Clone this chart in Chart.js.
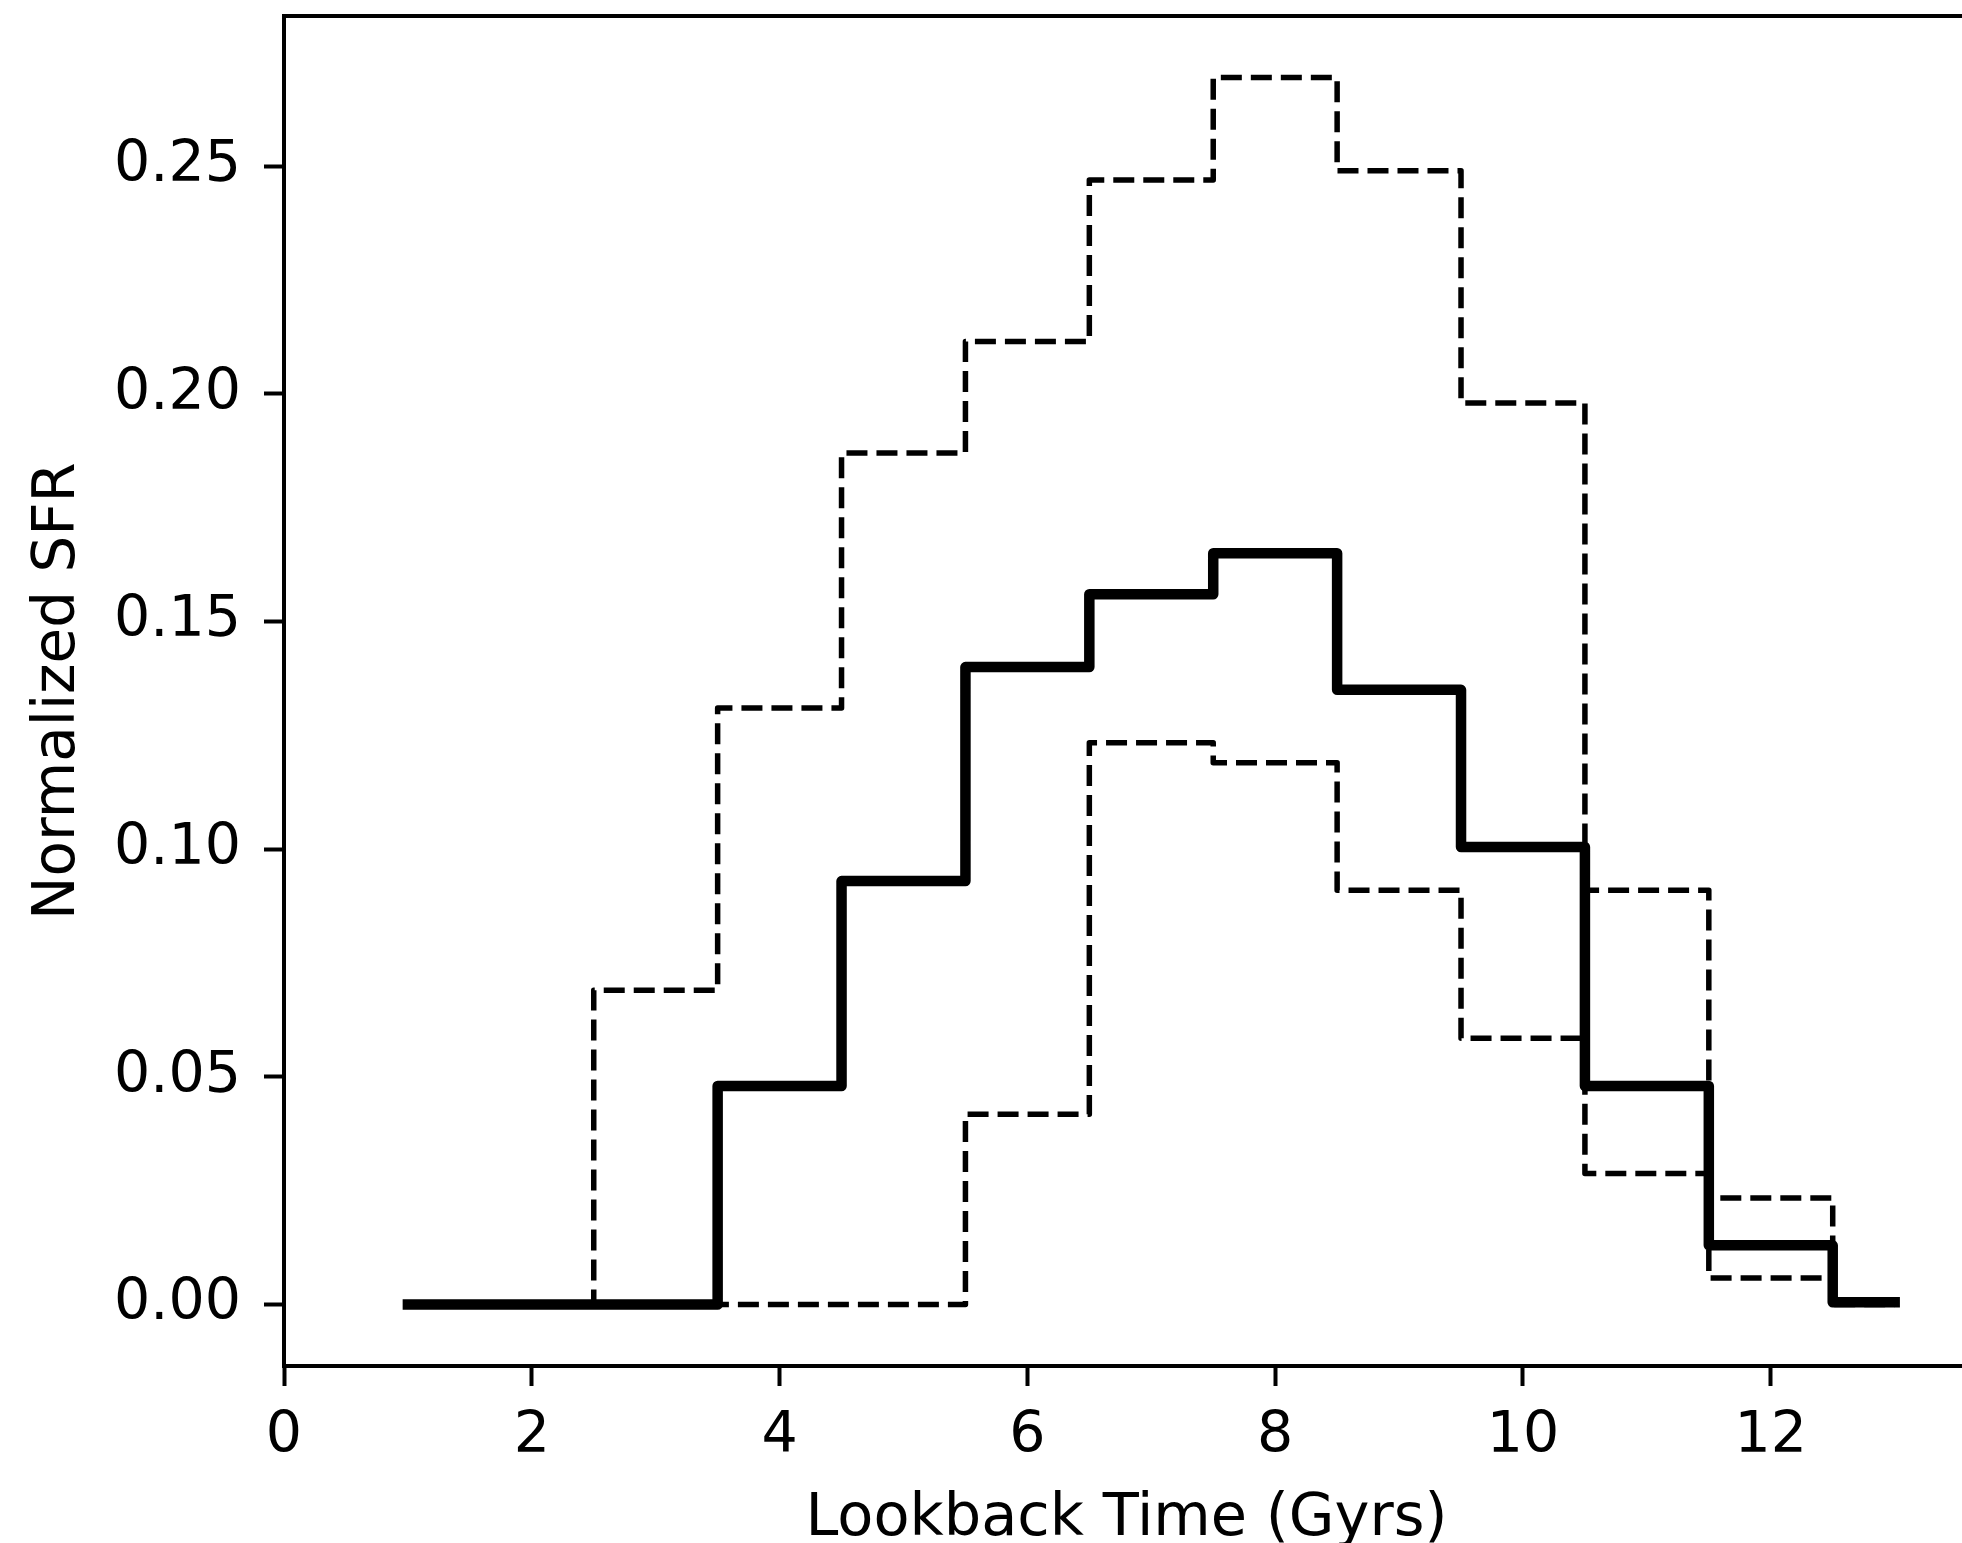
<!DOCTYPE html>
<html>
<head>
<meta charset="utf-8">
<script src="https://cdn.jsdelivr.net/npm/chart.js@4.4.1/dist/chart.umd.min.js"></script>
<style>
    html, body { margin: 0; padding: 0; background: #fff; overflow: hidden; width: 1962px; height: 1543px; }
    canvas { display: block; }
</style>
</head>
<body>
<canvas id="sfrChart" width="2000" height="1543"></canvas>
<script>
// bin centres (Gyr) and normalized SFR per bin
const lookback = [1, 2, 3, 4, 5, 6, 7, 8, 9, 10, 11, 12, 13];
const sfrBest  = [0, 0, 0, 0.048, 0.093, 0.140, 0.156, 0.165, 0.135, 0.1005, 0.048, 0.013, 0.0005];
const sfrUpper = [0, 0, 0.069, 0.131, 0.187, 0.2115, 0.247, 0.2695, 0.249, 0.198, 0.091, 0.0234, 0.001];
const sfrLower = [0, 0, 0, 0, 0, 0.0418, 0.1234, 0.119, 0.091, 0.0585, 0.0288, 0.0058, 0];

const xTicks = [0, 2, 4, 6, 8, 10, 12];
const yTicks = [0, 0.05, 0.10, 0.15, 0.20, 0.25];
const xLimits = [0, 13.6];
const yLimits = [-0.0135, 0.283];

function toPoints(values) {
    return lookback.map((x, i) => ({ x: x, y: values[i] }));
}

function createGraph() {
    let chartStatus = Chart.getChart("sfrChart");
    if (chartStatus != undefined) {
        chartStatus.destroy();
    }
    const font = "DejaVu Sans";
    const data = {
        datasets: [
            {
                label: "best",
                data: toPoints(sfrBest),
                borderColor: "#000",
                borderWidth: 10.5,
                borderCapStyle: "square",
                borderJoinStyle: "round",
                stepped: "middle",
                fill: false
            },
            {
                label: "upper",
                data: toPoints(sfrUpper),
                borderColor: "#000",
                borderWidth: 5.5,
                borderDash: [21, 9],
                borderJoinStyle: "round",
                stepped: "middle",
                fill: false
            },
            {
                label: "lower",
                data: toPoints(sfrLower),
                borderColor: "#000",
                borderWidth: 5.5,
                borderDash: [21, 9],
                borderJoinStyle: "round",
                stepped: "middle",
                fill: false
            }
        ]
    };
    // axes box, the right edge falls just outside the picture
    const frame = {
        id: 'frame',
        afterDraw(chart) {
            const { ctx, chartArea: { left, top, right, bottom } } = chart
            ctx.save()
            ctx.strokeStyle = '#000'
            ctx.lineWidth = 4
            ctx.strokeRect(left, top, right - left, bottom - top)
            ctx.restore()
        }
    }
    const tickGrid = {
        drawOnChartArea: false,
        drawTicks: true,
        tickLength: 20,
        tickWidth: 4,
        tickColor: "#000"
    };
    // config
    const config = {
        type: "line",
        data,
        options: {
            responsive: false,
            animation: false,
            devicePixelRatio: 1,
            layout: { padding: { left: 0, top: 16, right: 31, bottom: 0 } },
            elements: { point: { radius: 0 } },
            plugins: {
                legend: { display: false },
                tooltip: { enabled: false }
            },
            scales: {
                x: {
                    type: "linear",
                    min: xLimits[0],
                    max: xLimits[1],
                    afterBuildTicks: (s) => { s.ticks = xTicks.map(v => ({ value: v })) },
                    afterFit: (s) => {
                        s.height = 177
                        s.paddingLeft = 0
                        s.paddingRight = 0
                    },
                    grid: tickGrid,
                    border: { display: false },
                    ticks: {
                        color: "#000",
                        font: { family: font, size: 57 },
                        padding: 17,
                        maxRotation: 0,
                        autoSkip: false,
                        callback: (v) => String(v)
                    },
                    title: {
                        display: true,
                        text: "Lookback Time (Gyrs)",
                        color: "#000",
                        font: { family: font, size: 59, lineHeight: 0.8 },
                        padding: { top: 0, bottom: 0 }
                    }
                },
                y: {
                    type: "linear",
                    min: yLimits[0],
                    max: yLimits[1],
                    afterBuildTicks: (s) => { s.ticks = yTicks.map(v => ({ value: v })) },
                    afterFit: (s) => {
                        s.width = 284
                        s.paddingTop = 0
                        s.paddingBottom = 0
                    },
                    grid: tickGrid,
                    border: { display: false },
                    ticks: {
                        color: "#000",
                        font: { family: font, size: 57 },
                        padding: 23,
                        autoSkip: false,
                        callback: (v) => Number(v).toFixed(2)
                    },
                    title: {
                        display: true,
                        text: "Normalized SFR",
                        color: "#000",
                        font: { family: font, size: 58, lineHeight: 1.2 },
                        padding: { top: 24, bottom: 0 }
                    }
                }
            }
        },
        plugins: [frame]
    };

    // render init block
    const sfrChart = new Chart(
        document.getElementById("sfrChart"),
        config
    );
}
createGraph();
</script>
</body>
</html>
